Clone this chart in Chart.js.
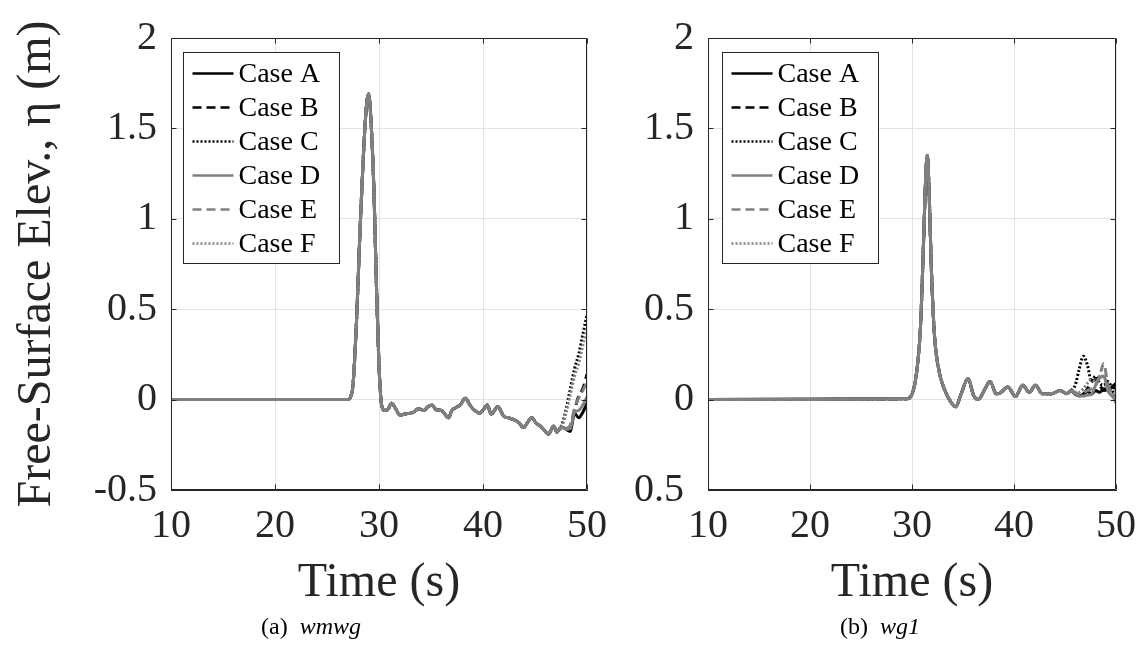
<!DOCTYPE html>
<html>
<head>
<meta charset="utf-8">
<script src="https://cdn.jsdelivr.net/npm/chart.js@4.4.0/dist/chart.umd.min.js"></script>
<style>
	body { margin: 0; background: #fff; width: 1148px; height: 658px; position: relative; overflow: hidden; }
	canvas { position: absolute; top: 0; }
	#wmwg-canvas { left: 0; }
	#wg1-canvas { left: 630px; }
	.caption { position: absolute; top: 613px; width: 300px; text-align: center; font-family: "Liberation Serif", serif; font-size: 24px; color: #000; }
</style>
</head>
<body>
<canvas id="wmwg-canvas" width="625" height="620"></canvas>
<canvas id="wg1-canvas" width="518" height="620"></canvas>
<div class="caption" style="left: 161px;">(a)&nbsp; <i>wmwg</i></div>
<div class="caption" style="left: 730px;">(b)&nbsp; <i>wg1</i></div>
<script>
const cases = ["Case A", "Case B", "Case C", "Case D", "Case E", "Case F"];
const caseColors = ["#000000", "#000000", "#000000", "#808080", "#808080", "#808080"];
const caseDashes = [[], [9, 5], [2, 2], [], [9, 5], [2, 2]];

const xTicks = [10, 20, 30, 40, 50];
const yTicks = [-0.5, 0, 0.5, 1, 1.5, 2];

// (a) wmwg - common part of all cases
const wmwgTime = [10, 27.0, 27.3, 27.5, 27.85, 28.15, 28.5, 28.8, 29.0, 29.2,
	29.5, 29.75, 30.0, 30.25, 30.55, 30.9, 31.2, 31.6, 32.0, 32.5,
	33.0, 33.3, 33.8, 34.3, 34.7, 35.1, 35.5, 36.0, 36.7, 37.0,
	37.3, 37.8, 38.3, 38.8, 39.2, 39.7, 40.1, 40.4, 40.8, 41.1,
	41.4, 42.0, 42.4, 42.9, 43.4, 43.9, 44.3, 44.7, 45.1, 45.5,
	45.9, 46.3, 46.8, 47.1, 47.4];
const wmwgEta = [0, 0, 0.02, 0.08, 0.45, 0.9, 1.35, 1.63, 1.69, 1.57,
	1.18, 0.64, 0.19, -0.03, -0.06, -0.05, -0.02, -0.05, -0.085, -0.08,
	-0.075, -0.07, -0.05, -0.06, -0.04, -0.03, -0.056, -0.06, -0.1, -0.06,
	-0.047, -0.03, 0.007, -0.035, -0.06, -0.075, -0.05, -0.03, -0.08, -0.06,
	-0.038, -0.092, -0.1, -0.11, -0.125, -0.155, -0.125, -0.1, -0.13, -0.146,
	-0.17, -0.19, -0.146, -0.18, -0.16];
// where the cases split up
const wmwgTailTime = [47.7, 48.0, 48.4, 48.8, 49.2, 49.6, 50.0];
const wmwgTailA = [-0.155, -0.165, -0.176, -0.075, -0.1, -0.07, -0.02];
const wmwgTailB = [-0.155, -0.16, -0.15, -0.06, 0.02, 0.06, 0.14];
const wmwgTailC = [-0.12, -0.05, 0.06, 0.17, 0.25, 0.36, 0.47];
const wmwgTailD = [-0.155, -0.165, -0.16, -0.07, -0.06, -0.03, 0.015];
const wmwgTailE = [-0.155, -0.16, -0.14, -0.05, 0.01, 0.05, 0.1];
const wmwgTailF = [-0.13, -0.07, 0.03, 0.13, 0.2, 0.3, 0.4];

// (b) wg1 - common part of all cases
const wg1Time = [10, 29.5, 30.0, 30.45, 30.83, 31.15, 31.34, 31.5, 31.66, 31.9,
	32.2, 32.68, 33.16, 33.8, 34.3, 34.76, 35.5, 36.04, 36.5, 37.16,
	37.65, 38.27, 38.6, 39.4, 40.15, 40.85, 41.5, 42.1, 42.76, 43.7,
	44.5, 45.16, 45.6];
const wg1Eta = [0, 0.005, 0.03, 0.15, 0.4, 0.9, 1.23, 1.35, 1.18, 0.72,
	0.36, 0.15, 0.06, -0.013, -0.04, 0.023, 0.115, 0.023, 0.0, 0.06,
	0.1, 0.032, 0.035, 0.07, 0.017, 0.08, 0.04, 0.08, 0.033, 0.033,
	0.05, 0.033, 0.05];
const wg1TailTime = [46.0, 46.4, 46.8, 47.2, 47.6, 48.0, 48.4, 48.8, 49.2, 49.6, 50.0];
const wg1TailA = [0.03, 0.02, 0.03, 0.045, 0.03, 0.05, 0.04, 0.06, 0.05, 0.07, 0.09];
const wg1TailB = [0.03, 0.025, 0.03, 0.06, 0.1, 0.11, 0.08, 0.05, 0.06, 0.07, 0.06];
const wg1TailC = [0.08, 0.17, 0.24, 0.19, 0.1, 0.13, 0.09, 0.08, 0.1, 0.06, -0.01];
const wg1TailD = [0.03, 0.02, 0.02, 0.025, 0.03, 0.08, 0.12, 0.13, 0.05, 0.02, 0.0];
const wg1TailE = [0.04, 0.03, 0.04, 0.05, 0.06, 0.08, 0.13, 0.2, 0.08, 0.04, -0.02];
const wg1TailF = [0.035, 0.04, 0.06, 0.09, 0.11, 0.1, 0.13, 0.12, 0.09, 0.04, 0.02];

const serif = "Liberation Serif";
const axisColor = "#262626";

// MATLAB style box with inward tick marks
const framePlugin = {
	id: "frame",
	afterDraw(chart) {
		const ctx = chart.ctx;
		const a = chart.chartArea;
		const xs = chart.scales.x;
		const ys = chart.scales.y;
		const l = Math.round(a.left) + 0.5, r = Math.round(a.right) - 0.5;
		const t = Math.round(a.top) + 0.5, b = Math.round(a.bottom) - 0.5;
		ctx.save();
		ctx.strokeStyle = axisColor;
		ctx.lineWidth = 1;
		ctx.beginPath();
		ctx.rect(l, t, r - l, b - t);
		xs.ticks.forEach((tk) => {
			const px = Math.round(xs.getPixelForValue(tk.value)) + 0.5;
			ctx.moveTo(px, b); ctx.lineTo(px, b - 5);
			ctx.moveTo(px, t); ctx.lineTo(px, t + 5);
		});
		ys.ticks.forEach((tk) => {
			const py = Math.round(ys.getPixelForValue(tk.value)) + 0.5;
			ctx.moveTo(l, py); ctx.lineTo(l + 5, py);
			ctx.moveTo(r, py); ctx.lineTo(r - 5, py);
		});
		ctx.stroke();
		ctx.restore();
	},
};

// legend box inside the axes (top left)
const insideLegend = {
	id: "insideLegend",
	afterDraw(chart, args, opts) {
		const ctx = chart.ctx;
		const a = chart.chartArea;
		const bx = Math.round(a.left + opts.x) + 0.5;
		const by = Math.round(a.top + opts.y) + 0.5;
		ctx.save();
		ctx.fillStyle = "#ffffff";
		ctx.fillRect(bx, by, opts.width, opts.height);
		ctx.strokeStyle = axisColor;
		ctx.lineWidth = 1;
		ctx.strokeRect(bx, by, opts.width, opts.height);
		ctx.font = opts.fontSize + "px \"" + serif + "\"";
		ctx.textBaseline = "middle";
		chart.data.datasets.forEach((ds, i) => {
			const ry = by + opts.firstRow + i * opts.rowGap;
			ctx.strokeStyle = ds.borderColor;
			ctx.lineWidth = 2.5;
			ctx.setLineDash(ds.borderDash);
			ctx.beginPath();
			ctx.moveTo(bx + 9, ry);
			ctx.lineTo(bx + 50, ry);
			ctx.stroke();
			ctx.setLineDash([]);
			ctx.fillStyle = "#000000";
			ctx.fillText(ds.label, bx + 55, ry + 1);
		});
		ctx.restore();
	},
};

function buildDatasets(time, eta, tailTime, tails) {
	return cases.map((label, i) => {
		var points = time.map((t, j) => ({ x: t, y: eta[j] }));
		tailTime.forEach((t, j) => points.push({ x: t, y: tails[i][j] }));
		return {
			label: label,
			data: points,
			borderColor: caseColors[i],
			borderDash: caseDashes[i],
			borderWidth: 3,
			pointRadius: 0,
			cubicInterpolationMode: "monotone",
			order: cases.length - i,
		};
	});
}

function drawGauge(canvasId, datasets, opt) {
	new Chart(canvasId, {
		type: "line",
		data: { datasets: datasets },
		options: {
			responsive: false,
			animation: false,
			layout: { padding: { top: 28, right: opt.padRight, left: 0, bottom: 0 } },
			plugins: {
				legend: { display: false },
				tooltip: { enabled: false },
				insideLegend: { x: opt.legendX, y: 14, width: 156, height: 211, firstRow: 21, rowGap: 34, fontSize: 28 },
			},
			scales: {
				x: {
					type: "linear",
					min: 10,
					max: 50,
					afterBuildTicks: (s) => { s.ticks = xTicks.map((v) => ({ value: v })); },
					ticks: { font: { family: serif, size: 40 }, color: axisColor, padding: 12, maxRotation: 0 },
					grid: { color: "#e3e3e3", drawTicks: false },
					border: { color: axisColor },
					title: {
						display: true,
						text: "Time (s)",
						color: axisColor,
						font: { family: serif, size: 48, lineHeight: 1 },
						padding: { top: 0, bottom: 13 },
					},
					afterFit: (s) => { s.height = 130; },
				},
				y: {
					min: -0.5,
					max: 2,
					afterBuildTicks: (s) => { s.ticks = yTicks.map((v) => ({ value: v })); },
					ticks: {
						font: { family: serif, size: 40 },
						color: axisColor,
						padding: 14,
						callback: opt.yLabel,
					},
					grid: { color: "#e3e3e3", drawTicks: false },
					border: { color: axisColor },
					title: {
						display: opt.yTitle != "",
						text: opt.yTitle,
						color: axisColor,
						font: { family: serif, size: 48, lineHeight: 1 },
						padding: { top: 13, bottom: 0 },
					},
					afterFit: (s) => { s.width = opt.yWidth; },
				},
			},
		},
		plugins: [framePlugin, insideLegend],
	});
}

drawGauge("wmwg-canvas",
	buildDatasets(wmwgTime, wmwgEta, wmwgTailTime, [wmwgTailA, wmwgTailB, wmwgTailC, wmwgTailD, wmwgTailE, wmwgTailF]),
	{
		padRight: 38,
		yWidth: 171,
		legendX: 12,
		yTitle: "Free-Surface Elev., η (m)",
		yLabel: (v) => "" + v,
	});

// the bottom label of (b) shows without its minus sign
drawGauge("wg1-canvas",
	buildDatasets(wg1Time, wg1Eta, wg1TailTime, [wg1TailA, wg1TailB, wg1TailC, wg1TailD, wg1TailE, wg1TailF]),
	{
		padRight: 23,
		yWidth: 78,
		legendX: 14,
		yTitle: "",
		yLabel: (v) => (v == -0.5 ? "0.5 " : "" + v),
	});
</script>
</body>
</html>
